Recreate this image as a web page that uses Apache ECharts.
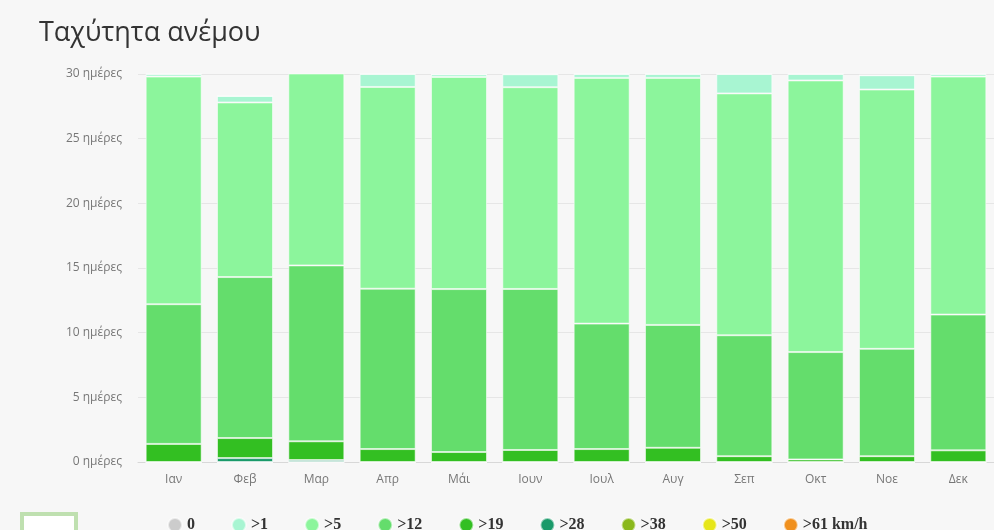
<!DOCTYPE html>
<html>
<head>
<meta charset="utf-8">
<script src="https://cdn.jsdelivr.net/npm/echarts@6/dist/echarts.min.js"></script>
<style>
  html, body { margin: 0; padding: 0; background: #f7f7f7; }
  #chart { width: 994px; height: 530px; }
</style>
</head>
<body>
<div id="chart"></div>
<script>
// μήνες
const months = ["Ιαν", "Φεβ", "Μαρ", "Απρ", "Μάι", "Ιουν", "Ιουλ", "Αυγ", "Σεπ", "Οκτ", "Νοε", "Δεκ"];
// ημέρες ανά κατηγορία ταχύτητας
const calm = [0, 0, 0, 0, 0, 0, 0, 0, 0, 0, 0, 0];
const over1 = [0.2, 0.5, 0.1, 1.0, 0.2, 1.0, 0.3, 0.3, 1.5, 0.5, 1.1, 0.2];
const over5 = [17.6, 13.5, 14.9, 15.6, 16.4, 15.6, 19.0, 19.1, 18.7, 21.0, 20.05, 18.4];
const over12 = [10.8, 12.45, 13.6, 12.4, 12.6, 12.45, 9.7, 9.5, 9.35, 8.3, 8.3, 10.5];
const over19 = [1.4, 1.55, 1.45, 1.0, 0.77, 0.93, 1.0, 1.1, 0.45, 0.2, 0.45, 0.9];
const over28 = [0, 0.3, 0.15, 0, 0, 0, 0, 0, 0, 0, 0, 0];
const over38 = [0, 0, 0, 0, 0, 0, 0, 0, 0, 0, 0, 0];
const over50 = [0, 0, 0, 0, 0, 0, 0, 0, 0, 0, 0, 0];
const over61 = [0, 0, 0, 0, 0, 0, 0, 0, 0, 0, 0, 0];
const yTicks = [0, 5, 10, 15, 20, 25, 30];

const chart = echarts.init(document.getElementById("chart"));

function bar(name, data, color) {
  return {
    name: name,
    type: "bar",
    stack: "wind",
    data: data,
    barWidth: 56,
    itemStyle: {
      color: color,
      borderColor: "rgba(255,255,255,0.55)",
      borderWidth: 1,
    },
  };
}

const option = {
  backgroundColor: "#f7f7f7",
  animation: false,
  title: {
    text: "Ταχύτητα ανέμου",
    left: 34,
    top: 15,
    textStyle: {
      fontFamily: "Open Sans",
      fontSize: 27,
      fontWeight: "normal",
      color: "#333",
    },
  },
  legend: {
    left: 162,
    top: 512,
    icon: "circle",
    itemWidth: 14,
    itemHeight: 14,
    itemGap: 36,
    data: ["0", ">1", ">5", ">12", ">19", ">28", ">38", ">50", ">61 km/h"],
    textStyle: {
      fontFamily: "Liberation Serif",
      fontWeight: "bold",
      fontSize: 16,
      color: "#333",
    },
  },
  grid: {
    left: 138,
    right: -2,
    top: 74,
    bottom: 68,
  },
  xAxis: {
    type: "category",
    data: months,
    axisLine: { lineStyle: { color: "#d8d8d8" } },
    axisTick: { show: false },
    axisLabel: {
      margin: 12,
      fontFamily: "Open Sans",
      fontSize: 12,
      color: "#777",
    },
  },
  yAxis: {
    type: "value",
    min: yTicks[0],
    max: yTicks[yTicks.length - 1],
    interval: 5,
    axisLine: { show: false },
    axisTick: { show: false },
    splitLine: { lineStyle: { color: "#e6e6e6" } },
    axisLabel: {
      margin: 16,
      fontFamily: "Open Sans",
      fontSize: 12,
      color: "#777",
      formatter: (v) => v + " ημέρες",
    },
  },
  series: [
    bar(">61 km/h", over61, "#f0901e"),
    bar(">50", over50, "#e6e619"),
    bar(">38", over38, "#8ab81c"),
    bar(">28", over28, "#1a9a6a"),
    bar(">19", over19, "#33bf22"),
    bar(">12", over12, "#64dd6c"),
    bar(">5", over5, "#8cf59c"),
    bar(">1", over1, "#a8f5d2"),
    bar("0", calm, "#cccccc"),
  ],
  graphic: [
    {
      type: "rect",
      shape: { x: 22, y: 514, width: 54, height: 20 },
      style: { fill: "#ffffff", stroke: "#bfe0b0", lineWidth: 4 },
    },
  ],
};
chart.setOption(option);
</script>
</body>
</html>
